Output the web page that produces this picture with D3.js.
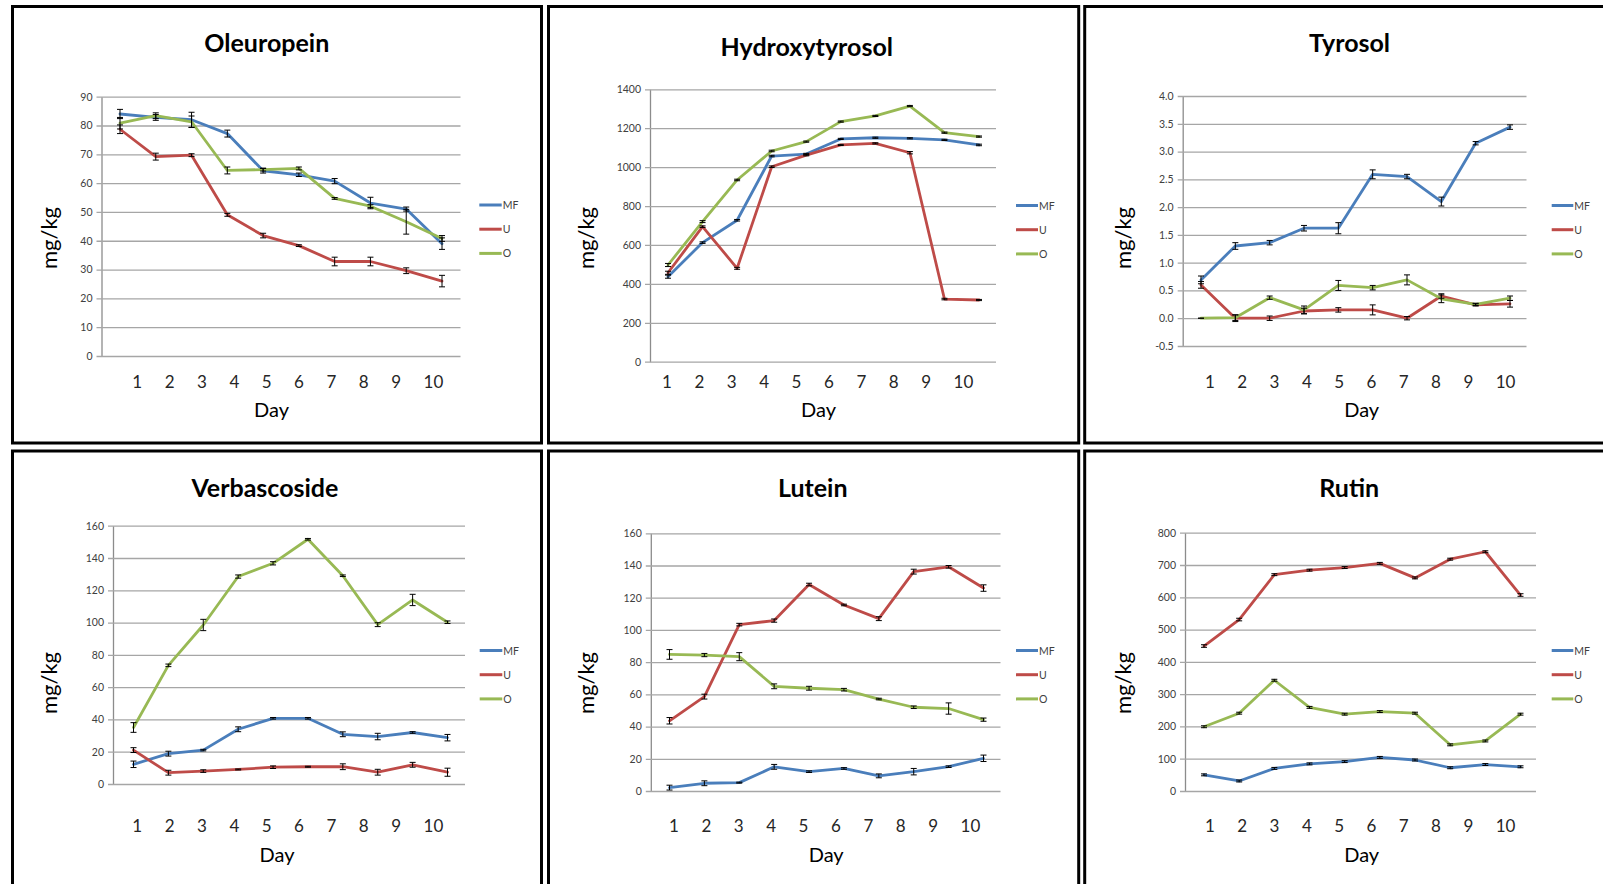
<!DOCTYPE html>
<html>
<head>
<meta charset="utf-8">
<script src="https://cdn.jsdelivr.net/npm/d3@7"></script>
<style>
  body { margin: 0; background: #fff; }
  svg { display: block; font-family: Lato, "Open Sans", sans-serif; }
</style>
</head>
<body>
<svg id="chart" width="1603" height="884"></svg>
<script>
// categories
var days = [1, 2, 3, 4, 5, 6, 7, 8, 9, 10]
var groups = ["MF", "U", "O"]
var groupColors = ["#4a7ebb", "#be4b48", "#98b954"]

// Oleuropein (mg/kg), means + error half widths
var oleuropeinMF = [84.0, 82.8, 82.0, 77.2, 64.3, 62.9, 60.7, 53.1, 51.0, 39.0]
var oleuropeinU = [78.7, 69.2, 69.7, 49.0, 41.8, 38.3, 32.8, 32.8, 29.6, 26.0]
var oleuropeinO = [80.8, 83.4, 81.3, 64.4, 64.7, 65.1, 54.7, 52.0, 46.6, 40.8]
var oleuropeinMFerr = [1.6, 1.0, 2.6, 1.2, 0.8, 0.6, 0.9, 2.0, 0.7, 2.0]
var oleuropeinUerr = [1.5, 1.2, 0.5, 0.5, 0.8, 0.3, 1.5, 1.5, 1.0, 2.0]
var oleuropeinOerr = [2.0, 1.0, 2.0, 1.2, 0.5, 0.5, 0.3, 0.5, 4.3, 1.0]

// Hydroxytyrosol
var hydroxytyrosolMF = [437, 612, 727, 1057, 1067, 1145, 1151, 1148, 1140, 1114]
var hydroxytyrosolU = [457, 694, 480, 1002, 1062, 1114, 1122, 1074, 322, 317]
var hydroxytyrosolO = [497, 720, 934, 1083, 1131, 1234, 1263, 1314, 1177, 1157]
var hydroxytyrosolMFerr = [8, 4, 4, 4, 4, 3, 3, 3, 3, 4]
var hydroxytyrosolUerr = [8, 4, 5, 4, 4, 3, 3, 6, 4, 3]
var hydroxytyrosolOerr = [8, 5, 4, 4, 3, 3, 3, 3, 3, 3]

// Tyrosol
var tyrosolMF = [0.69, 1.30, 1.36, 1.62, 1.62, 2.59, 2.55, 2.10, 3.15, 3.44]
var tyrosolU = [0.60, 0.00, 0.00, 0.13, 0.15, 0.15, 0.00, 0.40, 0.24, 0.26]
var tyrosolO = [0.00, 0.01, 0.37, 0.15, 0.59, 0.55, 0.69, 0.35, 0.25, 0.36]
var tyrosolMFerr = [0.07, 0.06, 0.04, 0.05, 0.10, 0.08, 0.04, 0.08, 0.03, 0.04]
var tyrosolUerr = [0.06, 0.06, 0.04, 0.05, 0.04, 0.09, 0.03, 0.04, 0.02, 0.06]
var tyrosolOerr = [0.00, 0.05, 0.03, 0.07, 0.09, 0.04, 0.09, 0.07, 0.02, 0.04]

// Verbascoside
var verbascosideMF = [12.2, 18.8, 21.0, 33.9, 40.7, 40.7, 30.8, 29.4, 31.9, 28.7]
var verbascosideU = [21.0, 7.0, 8.0, 9.0, 10.4, 10.7, 10.7, 7.3, 11.9, 7.3]
var verbascosideO = [35.0, 73.5, 98.5, 128.5, 136.7, 151.6, 129.0, 98.7, 114.0, 100.2]
var verbascosideMFerr = [2.0, 1.5, 0.5, 1.5, 0.5, 0.5, 1.5, 2.0, 0.5, 2.0]
var verbascosideUerr = [1.5, 1.5, 0.8, 0.3, 0.8, 0.3, 1.8, 1.8, 1.5, 2.5]
var verbascosideOerr = [3.0, 0.8, 3.5, 1.0, 1.0, 0.5, 0.5, 1.2, 3.5, 0.8]

// Lutein
var luteinMF = [2.1, 4.8, 5.2, 15.0, 12.0, 14.0, 9.4, 12.0, 15.1, 20.3]
var luteinU = [43.6, 58.6, 103.3, 105.8, 128.2, 115.5, 107.0, 136.2, 139.2, 126.0]
var luteinO = [84.8, 84.4, 83.4, 65.0, 63.8, 62.9, 57.1, 52.0, 51.2, 44.3]
var luteinMFerr = [1.5, 1.5, 0.3, 1.5, 0.5, 0.5, 1.2, 2.0, 0.5, 2.0]
var luteinUerr = [2.0, 1.5, 0.8, 1.0, 0.8, 0.5, 1.2, 1.5, 0.8, 2.0]
var luteinOerr = [3.0, 1.0, 2.5, 1.5, 1.2, 0.8, 0.5, 0.8, 3.5, 1.0]

// Rutin
var rutinMF = [50, 31, 70, 84, 91, 104, 96, 72, 82, 75]
var rutinU = [449, 531, 670, 684, 692, 705, 660, 718, 741, 607]
var rutinO = [199, 241, 343, 259, 238, 246, 241, 143, 155, 238]
var rutinMFerr = [3, 3, 3, 3, 3, 3, 3, 3, 3, 3]
var rutinUerr = [4, 4, 3, 3, 3, 3, 3, 3, 3, 4]
var rutinOerr = [3, 3, 3, 3, 3, 3, 3, 3, 3, 3]

var intFmt = d => String(d)
var oneDec = d => d.toFixed(1)

// one entry per Excel chart that was pasted into the figure
var panels = [
  { title: "Oleuropein", means: [oleuropeinMF, oleuropeinU, oleuropeinO], errs: [oleuropeinMFerr, oleuropeinUerr, oleuropeinOerr],
    domain: [0, 90], step: 10, fmt: intFmt,
    box: [12.5, 6.5, 529, 436.5], plot: [101.5, 460.5, 96.7, 356], pts: [120, 442], lab: [137.3, 32.36, 388],
    titleXY: [266.8, 52], dayXY: [271.5, 417], mgXY: [48.5, 238], legend: [479.3, 501.7, 205, 24.2] },
  { title: "Hydroxytyrosol", means: [hydroxytyrosolMF, hydroxytyrosolU, hydroxytyrosolO], errs: [hydroxytyrosolMFerr, hydroxytyrosolUerr, hydroxytyrosolOerr],
    domain: [0, 1400], step: 200, fmt: intFmt,
    box: [548.5, 6.5, 530.2, 436.5], plot: [650, 996, 89.3, 361.7], pts: [668, 979], lab: [667, 32.4, 388],
    titleXY: [806.8, 55.5], dayXY: [818.5, 417], mgXY: [585, 238], legend: [1016, 1038, 205.5, 24.2] },
  { title: "Tyrosol", means: [tyrosolMF, tyrosolU, tyrosolO], errs: [tyrosolMFerr, tyrosolUerr, tyrosolOerr],
    domain: [-0.5, 4.0], step: 0.5, fmt: oneDec,
    box: [1084.7, 6.5, 530, 436.5], plot: [1182.7, 1526.5, 96, 346], pts: [1201, 1510], lab: [1210, 32.3, 388],
    titleXY: [1349.6, 51.7], dayXY: [1361.7, 417], mgXY: [1122, 238], legend: [1551.7, 1573.3, 205.5, 24.2] },
  { title: "Verbascoside", means: [verbascosideMF, verbascosideU, verbascosideO], errs: [verbascosideMFerr, verbascosideUerr, verbascosideOerr],
    domain: [0, 160], step: 20, fmt: intFmt,
    box: [12.5, 451, 529, 436], plot: [113, 465, 525.7, 784], pts: [133.5, 447.5], lab: [137.3, 32.36, 832.3],
    titleXY: [264.9, 496.7], dayXY: [277, 861.5], mgXY: [48, 683], legend: [479.7, 502.3, 650.5, 24.2] },
  { title: "Lutein", means: [luteinMF, luteinU, luteinO], errs: [luteinMFerr, luteinUerr, luteinOerr],
    domain: [0, 160], step: 20, fmt: intFmt,
    box: [548.5, 451, 530.2, 436], plot: [650.8, 1000.5, 533.3, 791], pts: [669.5, 983.5], lab: [674, 32.4, 832.3],
    titleXY: [812.8, 496.7], dayXY: [826.2, 861.5], mgXY: [585, 683], legend: [1016, 1038, 650.5, 24.2] },
  { title: "Rutin", means: [rutinMF, rutinU, rutinO], errs: [rutinMFerr, rutinUerr, rutinOerr],
    domain: [0, 800], step: 100, fmt: intFmt,
    box: [1084.7, 451, 530, 436], plot: [1185, 1536, 532.7, 791], pts: [1204, 1520.5], lab: [1210, 32.3, 832.3],
    titleXY: [1349.2, 496.7], dayXY: [1361.7, 861.5], mgXY: [1122, 683], legend: [1551.7, 1573.3, 650.5, 24.2] }
]

var svg = d3.select("#chart")

function drawPanel(p) {
  var g = svg.append("g")
  var [pl, pr, pt, pb] = p.plot

  // panel frame
  g.append("rect")
    .attr("x", p.box[0]).attr("y", p.box[1])
    .attr("width", p.box[2]).attr("height", p.box[3])
    .attr("fill", "none").attr("stroke", "#000").attr("stroke-width", 3)

  var y = d3.scaleLinear().domain(p.domain).range([pb, pt])
  var x = d3.scalePoint().domain(days).range(p.pts)
  // the category labels in these pasted charts don't sit under the points
  var xl = d3.scalePoint().domain(days).range([p.lab[0], p.lab[0] + 9 * p.lab[1]])

  var ticks = d3.range(0, Math.round((p.domain[1] - p.domain[0]) / p.step) + 1).map(i => p.domain[0] + i * p.step)

  var yAxis = d3.axisLeft(y)
    .tickValues(ticks)
    .tickFormat(p.fmt)
    .tickSize(-(pr - pl))
    .tickSizeOuter(0)
    .tickPadding(9)

  g.append("g")
    .attr("transform", `translate(${pl},0)`)
    .call(yAxis)
    .call(a => a.select(".domain").attr("stroke", "#8c8c8c").attr("stroke-width", 1.3))
    .call(a => a.selectAll(".tick line").attr("x1", -5).attr("stroke", "#a6a6a6").attr("stroke-width", 1.3))
    .call(a => a.selectAll(".tick text")
      .attr("fill", "#404040")
      .style("font-family", "Lato, sans-serif")
      .style("font-size", "10.5px"))

  // day labels
  g.selectAll(".daylab").data(days).join("text")
    .attr("class", "daylab")
    .attr("x", d => xl(d) - 5)
    .attr("y", p.lab[2])
    .attr("fill", "#262626")
    .style("font-size", "17px")
    .text(d => d)

  // lines
  var line = d3.line()
    .x((d, i) => x(days[i]))
    .y(d => y(d))

  p.means.forEach((vals, k) => {
    g.append("path")
      .datum(vals)
      .attr("fill", "none")
      .attr("stroke", groupColors[k])
      .attr("stroke-width", 2.8)
      .attr("stroke-linejoin", "round")
      .attr("stroke-linecap", "round")
      .attr("d", line)
  })

  // error bars on top
  p.means.forEach((vals, k) => {
    var eb = g.append("g").attr("stroke", "#000").attr("stroke-width", 1)
    vals.forEach((v, i) => {
      var e = p.errs[k][i]
      var cx = x(days[i])
      var y0 = y(v - e), y1 = y(v + e)
      eb.append("line").attr("x1", cx).attr("x2", cx).attr("y1", y0).attr("y2", y1)
      eb.append("line").attr("x1", cx - 3).attr("x2", cx + 3).attr("y1", y0).attr("y2", y0)
      eb.append("line").attr("x1", cx - 3).attr("x2", cx + 3).attr("y1", y1).attr("y2", y1)
    })
  })

  // title + axis titles
  g.append("text")
    .attr("x", p.titleXY[0]).attr("y", p.titleXY[1])
    .attr("text-anchor", "middle")
    .style("font-size", "25px").style("font-weight", "bold")
    .attr("fill", "#000")
    .text(p.title)

  g.append("text")
    .attr("x", p.dayXY[0]).attr("y", p.dayXY[1])
    .attr("text-anchor", "middle")
    .style("font-size", "20px")
    .attr("fill", "#000")
    .text("Day")

  g.append("text")
    .attr("transform", `translate(${p.mgXY[0]},${p.mgXY[1]}) rotate(-90)`)
    .attr("text-anchor", "middle")
    .attr("dominant-baseline", "central")
    .style("font-size", "22px")
    .attr("fill", "#000")
    .text("mg/kg")

  // legend
  var [lx0, lx1, ly0, ldy] = p.legend
  groups.forEach((name, k) => {
    var ly = ly0 + k * ldy
    g.append("line")
      .attr("x1", lx0).attr("x2", lx1).attr("y1", ly).attr("y2", ly)
      .attr("stroke", groupColors[k]).attr("stroke-width", 3)
    g.append("text")
      .attr("x", lx1 + 1).attr("y", ly)
      .attr("dominant-baseline", "central")
      .attr("fill", "#404040")
      .style("font-size", "10.5px")
      .text(name)
  })
}

panels.forEach(drawPanel)
</script>
</body>
</html>
